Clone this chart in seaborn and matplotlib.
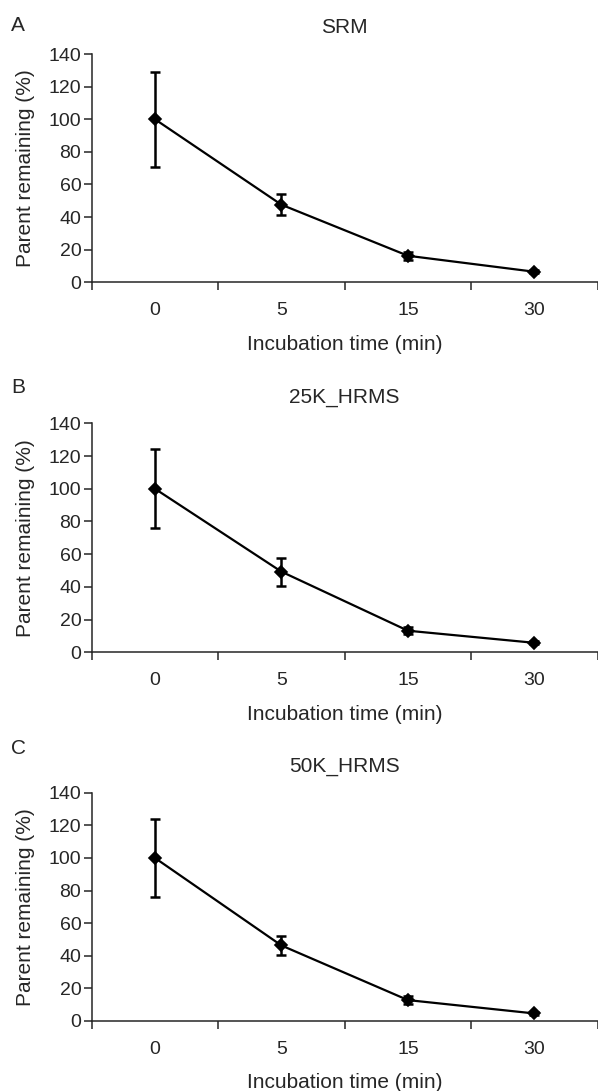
import numpy as np
import pandas as pd
import seaborn as sns
import matplotlib.pyplot as plt
from matplotlib.ticker import FixedLocator

# Data
time_labels = ['0', '5', '15', '30']
panel_letters = ['A', 'B', 'C']
panel_titles = ['SRM', '25K_HRMS', '50K_HRMS']
srm_mean = [100, 47.6, 16.3, 6.5]
srm_err = [29, 6.3, 2.5, 1]
hrms25_mean = [100, 49.3, 13.2, 5.8]
hrms25_err = [24, 8.5, 2.2, 1]
hrms50_mean = [100, 46.3, 12.8, 4.6]
hrms50_err = [24, 5.8, 2.5, 1]

sns.set_style('ticks')
plt.rcParams['font.family'] = ['Liberation Sans', 'DejaVu Sans']
plt.rcParams['axes.linewidth'] = 1.1

fig = plt.figure(figsize=(5.98, 10.91), dpi=100)

# axes boxes in figure fractions: left, bottom, width, height
boxes = [
    (0.1533, 0.7412, 0.8462, 0.2093),
    (0.1533, 0.4021, 0.8462, 0.2099),
    (0.1533, 0.0642, 0.8462, 0.2092),
]
letter_y = [0.9762, 0.6444, 0.3135]
means = [srm_mean, hrms25_mean, hrms50_mean]
errs = [srm_err, hrms25_err, hrms50_err]

for i, box in enumerate(boxes):
    ax = fig.add_axes(box)
    df = pd.DataFrame({'time': time_labels, 'remaining': means[i]})
    sns.pointplot(data=df, x='time', y='remaining', order=time_labels,
                  color='black', markers='D', markersize=6.5, linewidth=1.6,
                  errorbar=None, ax=ax)
    ax.errorbar(np.arange(len(time_labels)), means[i], yerr=errs[i],
                fmt='none', ecolor='black', elinewidth=1.8, capsize=3.5,
                capthick=1.8)

    ax.set_xlim(-0.5, len(time_labels) - 0.5)
    ax.set_ylim(0, 140)
    ax.set_yticks(range(0, 141, 20))
    ax.xaxis.set_minor_locator(FixedLocator(np.arange(-0.5, len(time_labels), 1.0)))
    ax.tick_params(axis='x', which='major', length=0, pad=14.5, labelsize=14)
    ax.tick_params(axis='x', which='minor', length=6, width=1.1, direction='out')
    ax.tick_params(axis='y', length=6, width=1.1, labelsize=14, pad=1.5)
    sns.despine(ax=ax)
    ax.spines['left'].set_bounds(0, 140)

    ax.set_ylabel('Parent remaining (%)', fontsize=15, labelpad=10)
    ax.set_xlabel('Incubation time (min)', fontsize=15, labelpad=11)
    ax.set_title(panel_titles[i], fontsize=15, pad=15)
    fig.text(18 / 598, letter_y[i], panel_letters[i], fontsize=15,
             ha='center', va='center')

fig.savefig('out.png', dpi=100)
